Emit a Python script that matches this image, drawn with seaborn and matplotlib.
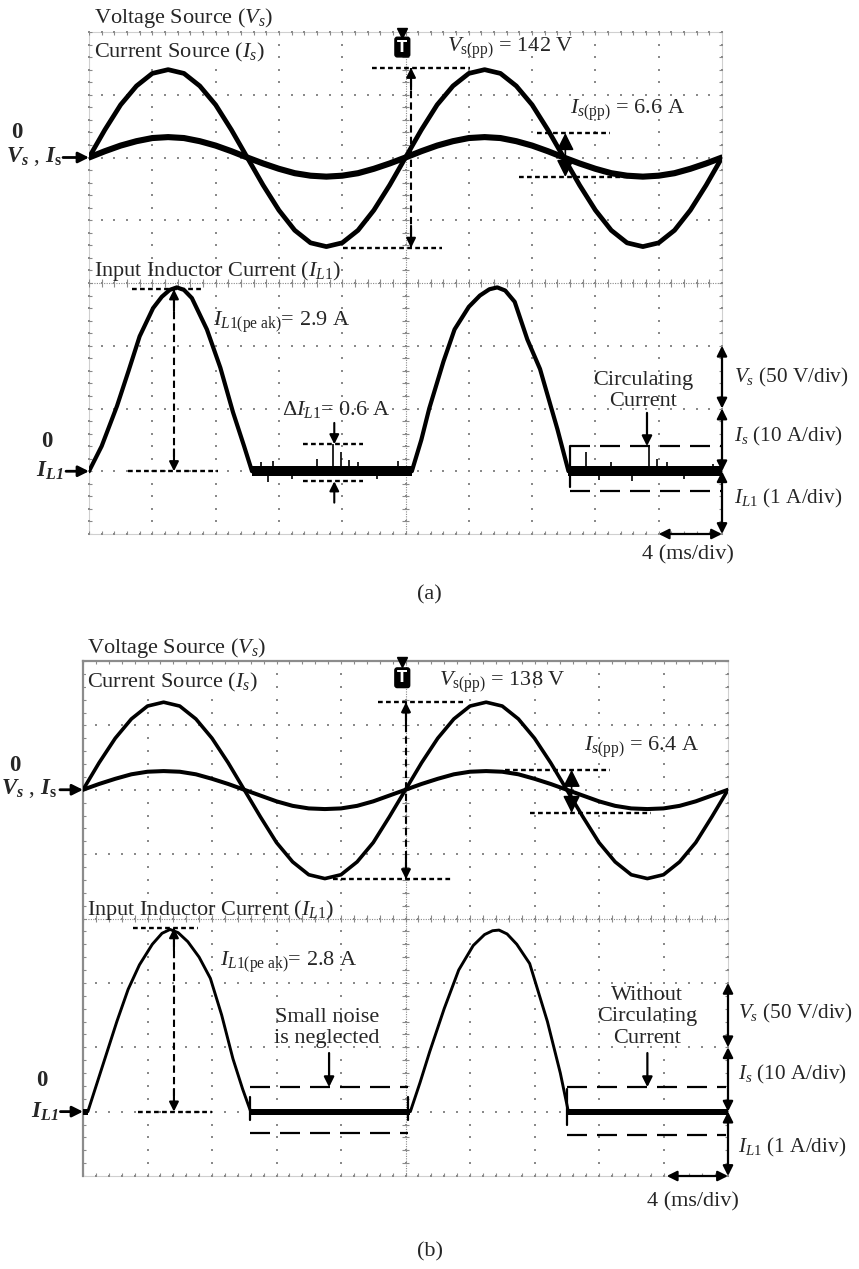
import numpy as np
import pandas as pd
import matplotlib
matplotlib.use("Agg")
import matplotlib.pyplot as plt
import seaborn as sns

# ------------------------------------------------------------------
# Data (4 ms/div, 10 divisions)
# ------------------------------------------------------------------
T_MS = list(range(0, 41))                      # sample instants (ms)

# ---- panel (a) ----
VS_A = [0, 22, 42, 57, 67, 70, 67, 57, 42, 22, 0, -22, -42, -58, -68, -71, -68, -58, -42, -22,
        0, 22, 42, 57, 67, 70, 67, 57, 42, 22, 0, -22, -42, -58, -68, -71, -68, -58, -42, -22, 0]
IS_A = [0, 1.0, 1.9, 2.6, 3.1, 3.25, 3.1, 2.6, 1.9, 1.0, 0, -0.95, -1.8, -2.5, -2.9, -3.05, -2.9, -2.5, -1.8, -0.95,
        0, 1.0, 1.9, 2.6, 3.1, 3.25, 3.1, 2.6, 1.9, 1.0, 0, -0.95, -1.8, -2.5, -2.9, -3.05, -2.9, -2.5, -1.8, -0.95, 0]
IL1_T_A = [0, 0.8, 1.77, 2.5, 3.2, 4.05, 4.6, 5.1, 5.55, 6.0, 6.5, 7.45, 8.3, 9.1, 9.8, 10.3,
           20.4, 21.0, 21.5, 22.4, 23.1, 24.0, 24.7, 25.3, 25.8, 26.3, 26.9, 27.7, 28.5, 29.6, 30.3, 40.0]
IL1_A = [0, 0.4, 1.04, 1.6, 2.15, 2.6, 2.78, 2.89, 2.93, 2.89, 2.76, 2.26, 1.65, 0.94, 0.4, 0,
         0, 0.5, 1.0, 1.75, 2.26, 2.62, 2.8, 2.9, 2.93, 2.88, 2.7, 2.1, 1.63, 0.67, 0, 0]
SPIKE_T_A = [10.9, 11.3, 11.6, 12.8, 14.4, 15.4, 15.9, 16.4, 17.0, 18.2, 19.5,
             31.4, 32.2, 33.0, 34.3, 35.4, 35.9, 36.5, 37.6, 39.4]
SPIKE_A = [0.14, -0.17, 0.16, -0.13, 0.2, 0.43, 0.3, 0.18, 0.15, -0.12, 0.17,
           0.3, -0.14, 0.14, -0.16, 0.41, 0.19, 0.15, -0.12, 0.12]
NOISE_A = 0.08                                  # half-width of noise band (A)

# ---- panel (b) ----
VS_B = [0, 21, 40, 55, 65, 68, 65, 55, 40, 21, 0, -21, -41, -56, -66, -69, -66, -56, -41, -21,
        0, 21, 40, 55, 65, 68, 65, 55, 40, 21, 0, -21, -41, -56, -66, -69, -66, -56, -41, -21, 0]
IS_B = [0, 0.9, 1.7, 2.4, 2.8, 2.9, 2.8, 2.4, 1.7, 0.9, 0, -0.9, -1.8, -2.5, -2.9, -3.0, -2.9, -2.5, -1.8, -0.9,
        0, 0.9, 1.7, 2.4, 2.8, 2.9, 2.8, 2.4, 1.7, 0.9, 0, -0.9, -1.8, -2.5, -2.9, -3.0, -2.9, -2.5, -1.8, -0.9, 0]
IL1_T_B = [0, 0.3, 1.2, 2.1, 2.8, 3.5, 4.3, 4.9, 5.4, 5.9, 6.5, 7.2, 7.9, 8.6, 9.3, 9.9, 10.4,
           20.3, 20.9, 21.5, 22.4, 23.3, 24.2, 24.9, 25.4, 25.8, 26.3, 26.9, 27.7, 28.8, 29.6, 30.1, 40.0]
IL1_B = [0, 0, 0.7, 1.4, 1.9, 2.28, 2.6, 2.77, 2.83, 2.78, 2.64, 2.4, 2.07, 1.5, 0.82, 0.35, 0,
         0, 0.45, 0.93, 1.6, 2.2, 2.58, 2.75, 2.81, 2.82, 2.76, 2.6, 2.3, 1.4, 0.6, 0, 0]
SPIKE_T_B = []
SPIKE_B = []
NOISE_B = 0.045

# scales
VS_DIV, IS_DIV, IL_DIV, MS_DIV = 50.0, 10.0, 1.0, 4.0

# texts
VPP_TXT = [r"$V_{\mathrm{s(pp)}}$ = 142 V", r"$V_{\mathrm{s(pp)}}$ = 138 V"]
IPP_TXT = [r"$I_{s(\mathrm{pp})}$ = 6.6 A", r"$I_{s(\mathrm{pp})}$ = 6.4 A"]
PK_TXT = [r"$I_{L1(\mathrm{pe\ ak})}$= 2.9 A", r"$I_{L1(\mathrm{pe\ ak})}$= 2.8 A"]
DELTA_TXT = r"$\mathit{Δ}I_{L1}$= 0.6 A"

# ------------------------------------------------------------------
sns.set_theme(style="white")
plt.rcParams['font.family'] = ['Liberation Serif', 'DejaVu Serif']
plt.rcParams['mathtext.fontset'] = 'custom'
plt.rcParams['mathtext.rm'] = 'Liberation Serif'
plt.rcParams['mathtext.it'] = 'Liberation Serif:italic'
plt.rcParams['mathtext.bf'] = 'Liberation Serif:bold'
plt.rcParams['mathtext.bfit'] = 'Liberation Serif:italic:bold'

FS = 16
FS_SC = 15.3
GRID_C = '#8a8a8a'

fig = plt.figure(figsize=(8.59, 12.69), dpi=100)
ax_a = fig.add_axes([89 / 859, 1 - 534 / 1269, 633 / 859, 502 / 1269])
ax_b = fig.add_axes([83 / 859, 1 - 1176 / 1269, 645 / 859, 515 / 1269])


def scope_grid(ax, strong_frame):
    ax.set_xlim(0, 40)
    ax.set_ylim(-4, 4)
    ax.set_xticks([])
    ax.set_yticks([])
    for name, sp in ax.spines.items():
        sp.set_zorder(0.5)
        if strong_frame and name in ('left', 'top'):
            sp.set_color('#8c8c8c'); sp.set_linewidth(1.6)
        else:
            sp.set_color('#d0d0d0'); sp.set_linewidth(0.8)
    ys = np.linspace(-4, 4, 41)
    xs = np.linspace(0, 40, 51)
    for xv in np.arange(0, 41, 4):
        ax.plot(np.full(41, xv), ys, ls='none', marker='s', ms=1.5, mew=0, color=GRID_C, zorder=1, clip_on=False)
    for yv in np.arange(-4, 5, 1):
        ax.plot(xs, np.full(51, yv), ls='none', marker='s', ms=1.5, mew=0, color=GRID_C, zorder=1, clip_on=False)
    # centre cross with fine ticks
    ax.plot([0, 40], [0, 0], ls=(0, (1, 1.2)), lw=0.8, color=GRID_C, zorder=1)
    ax.plot([20, 20], [-4, 4], ls=(0, (1, 1.2)), lw=0.8, color=GRID_C, zorder=1)
    ax.vlines(xs, -0.06, 0.06, lw=0.8, color=GRID_C, zorder=1)
    ax.hlines(ys, 19.76, 20.24, lw=0.8, color=GRID_C, zorder=1)
    # border ticks
    ax.hlines(ys, 0, 0.2, lw=0.8, color=GRID_C, zorder=1)
    ax.hlines(ys, 39.8, 40, lw=0.8, color=GRID_C, zorder=1)
    ax.vlines(xs, 3.95, 4, lw=0.8, color=GRID_C, zorder=1)
    ax.vlines(xs, -4, -3.95, lw=0.8, color=GRID_C, zorder=1)


def traces(ax, vs, is_, il_t, il, spk_t, spk, noise, lw_v, lw_i, lw_l):
    dv = pd.DataFrame({'t': T_MS, 'y': 2 + np.array(vs) / VS_DIV})
    di = pd.DataFrame({'t': T_MS, 'y': 2 + np.array(is_) / IS_DIV})
    dl = pd.DataFrame({'t': il_t, 'y': -3 + np.array(il) / IL_DIV})
    for d, lw in ((dv, lw_v), (di, lw_i), (dl, lw_l)):
        sns.lineplot(data=d, x='t', y='y', ax=ax, color='black', linewidth=lw, sort=False,
                     estimator=None, zorder=3, solid_joinstyle='round', solid_capstyle='round')
    # noise band on the zero-current intervals
    for k in range(len(il) - 1):
        if il[k] == 0 and il[k + 1] == 0:
            ax.fill_between([il_t[k], il_t[k + 1]], -3 - noise, -3 + noise, color='black',
                            lw=0, zorder=3)
    if spk_t:
        ax.vlines(spk_t, -3, -3 + np.array(spk) / IL_DIV, color='black', lw=1.2, zorder=3)


def hdash(ax, x0, x1, y, ls=(0, (2.0, 1.4)), lw=1.7):
    ax.plot([x0, x1], [y, y], color='black', lw=lw, ls=ls, clip_on=False, zorder=4,
            dash_capstyle='butt')


def vdash(ax, x, y0, y1, ls=(0, (3.5, 2.0)), lw=1.5):
    ax.plot([x, x], [y0, y1], color='black', lw=lw, ls=ls, clip_on=False, zorder=4)


def head(ax, x0, y0, x1, y1, ms=14, lw=1.5):
    ax.annotate('', xy=(x1, y1), xytext=(x0, y0),
                arrowprops=dict(arrowstyle='-|>', color='black', lw=lw, shrinkA=0, shrinkB=0,
                                mutation_scale=ms),
                annotation_clip=False, zorder=5)


def dbl(ax, x0, y0, x1, y1, ms=15, lw=1.6):
    ax.annotate('', xy=(x1, y1), xytext=(x0, y0),
                arrowprops=dict(arrowstyle='<|-|>', color='black', lw=lw, shrinkA=0, shrinkB=0,
                                mutation_scale=ms),
                annotation_clip=False, zorder=5)


BOX_LS = (0, (9, 4.5))


def panel(ax, P, idx):
    # titles
    ax.text(P['tx'], P['tvs'], r"Voltage Source ($V_s$)", fontsize=FS, ha='left', va='center', clip_on=False)
    ax.text(P['tx'], P['tis'], r"Current Source ($I_s$)", fontsize=FS, ha='left', va='center', zorder=6,
            bbox=dict(fc='white', ec='none', pad=0.5))
    ax.text(P['tx'], P['til'], r"Input Inductor Current ($I_{L1}$)", fontsize=FS, ha='left', va='center')
    # trigger marker
    ax.plot([P['trg']], [3.99], marker='v', ms=7, color='black', clip_on=False, zorder=6)
    ax.text(P['trg'], P['trg_y'], 'T', color='white', fontweight='bold', fontsize=10.5, ha='center',
            va='center', family='DejaVu Sans', zorder=6,
            bbox=dict(boxstyle='round,pad=0.16', fc='black', ec='black'))
    # Vs(pp)
    hdash(ax, *P['vpp_top'])
    hdash(ax, *P['vpp_bot'])
    x = P['vpp_x']
    vdash(ax, x, P['vpp_top'][2], P['vpp_bot'][2])
    head(ax, x, P['vpp_top'][2] - 0.35, x, P['vpp_top'][2])
    head(ax, x, P['vpp_bot'][2] + 0.35, x, P['vpp_bot'][2])
    ax.text(P['vpp_tx'][0], P['vpp_tx'][1], VPP_TXT[idx], fontsize=FS, ha='left', va='center')
    # Is(pp)
    hdash(ax, *P['ipp_top'])
    hdash(ax, *P['ipp_bot'])
    x = P['ipp_x']
    head(ax, x, P['ipp_mid'], x, P['ipp_top'][2], ms=26, lw=1.2)
    head(ax, x, P['ipp_mid'], x, P['ipp_bot'][2], ms=26, lw=1.2)
    ax.text(P['ipp_tx'][0], P['ipp_tx'][1], IPP_TXT[idx], fontsize=FS, ha='left', va='center')
    # IL1 peak
    hdash(ax, *P['pk_top'])
    hdash(ax, *P['pk_bot'])
    x = P['pk_x']
    vdash(ax, x, P['pk_top'][2], P['pk_bot'][2])
    head(ax, x, P['pk_top'][2] - 0.35, x, P['pk_top'][2])
    head(ax, x, P['pk_bot'][2] + 0.35, x, P['pk_bot'][2])
    ax.text(P['pk_tx'][0], P['pk_tx'][1], PK_TXT[idx], fontsize=FS, ha='left', va='center')
    # delta annotation (panel a only)
    if 'dl' in P:
        D = P['dl']
        ax.text(D['tx'], D['ty'], DELTA_TXT, fontsize=FS, ha='left', va='center')
        hdash(ax, D['x0'], D['x1'], D['top'])
        hdash(ax, D['x0'], D['x1'], D['bot'])
        head(ax, D['x'], D['top'] + 0.34, D['x'], D['top'])
        head(ax, D['x'], D['bot'] - 0.34, D['x'], D['bot'])
    # boxes
    for (x0, x1, yt, yb, v0, v1, both) in P['boxes']:
        hdash(ax, x0, x1, yt, ls=BOX_LS, lw=1.6)
        hdash(ax, x0, x1, yb, ls=BOX_LS, lw=1.6)
        ax.plot([x0, x0], [v0, v1], color='black', lw=1.6, zorder=4)
        if both:
            ax.plot([x1, x1], [v0, v1], color='black', lw=1.6, zorder=4)
    # callout texts
    for (tx, ty, txt, ax0, ay0, ay1) in P['callouts']:
        ax.text(tx, ty, txt, fontsize=FS, ha='center', va='center', linespacing=1.15, zorder=6)
        head(ax, ax0, ay0, ax0, ay1, ms=15, lw=1.6)
    # right scale arrows
    dbl(ax, 40, -1, 40, -2)
    dbl(ax, 40, -2, 40, -3)
    dbl(ax, 40, -3, 40, -4)
    dbl(ax, P['ms_x0'], -4, 40, -4)
    lx = P['sc_x']
    ax.text(lx, P['sc_y'][0], r"$V_s$ (50 V/div)", fontsize=FS_SC, ha='left', va='center', clip_on=False)
    ax.text(lx, P['sc_y'][1], r"$I_s$ (10 A/div)", fontsize=FS_SC, ha='left', va='center', clip_on=False)
    ax.text(lx, P['sc_y'][2], r"$I_{L1}$ (1 A/div)", fontsize=FS_SC, ha='left', va='center', clip_on=False)
    ax.text(P['ms_tx'][0], P['ms_tx'][1], "4 (ms/div)", fontsize=FS, ha='center', va='center', clip_on=False)
    # left reference markers
    ax.text(P['z1'][0], P['z1'][1], "0", fontsize=FS + 0.5, fontweight='bold', ha='center', va='center')
    ax.text(P['vsis_x'], 2.02, r"$\mathbfit{V}_{\mathbfit{s}}$ , $\mathbfit{I}_{\mathbf{s}}$",
            fontsize=FS + 0.5, ha='right', va='center')
    head(ax, P['arr1'], 2.0, 0, 2.0, ms=16, lw=2.0)
    ax.text(P['z2'][0], P['z2'][1], "0", fontsize=FS + 0.5, fontweight='bold', ha='center', va='center')
    ax.text(P['il_x'], -3.0, r"$\mathbfit{I}_{\mathbfit{L1}}$", fontsize=FS + 0.5, ha='right', va='center')
    head(ax, P['arr2'], -3.0, 0, -3.0, ms=16, lw=2.0)


PA = dict(tx=0.32, tvs=4.22, tis=3.67, til=0.19, trg=19.8, trg_y=3.76,
          vpp_top=(17.9, 24.1, 3.43), vpp_bot=(16.05, 22.3, 0.56), vpp_x=20.35, vpp_tx=(22.6, 3.745),
          ipp_top=(28.3, 32.9, 2.39), ipp_bot=(27.2, 35.0, 1.69), ipp_x=30.1, ipp_mid=2.03,
          ipp_tx=(30.4, 2.76),
          pk_top=(2.72, 7.2, -0.10), pk_bot=(2.46, 8.15, -3.0), pk_x=5.37, pk_tx=(7.84, -0.62),
          dl=dict(tx=12.2, ty=-2.02, x0=13.5, x1=17.3, top=-2.57, bot=-3.16, x=15.5),
          boxes=[(30.4, 40.0, -2.59, -3.32, -2.59, -3.25, False)],
          callouts=[(35.0, -1.72, "Circulating\nCurrent", 35.26, -2.07, -2.6)],
          sc_x=40.75, sc_y=(-1.5, -2.45, -3.43), ms_x0=36.0, ms_tx=(37.85, -4.33),
          z1=(-4.55, 2.4), vsis_x=-1.7, arr1=-1.64, z2=(-2.65, -2.53), il_x=-1.6, arr2=-1.45)

PB = dict(tx=0.25, tvs=4.2, tis=3.67, til=0.13, trg=19.8, trg_y=3.74,
          vpp_top=(18.3, 23.6, 3.36), vpp_bot=(15.5, 22.9, 0.61), vpp_x=20.03, vpp_tx=(22.1, 3.67),
          ipp_top=(26.2, 32.7, 2.31), ipp_bot=(27.7, 35.2, 1.64), ipp_x=30.3, ipp_mid=1.98,
          ipp_tx=(31.1, 2.66),
          pk_top=(3.1, 7.13, -0.15), pk_bot=(3.41, 8.0, -3.0), pk_x=5.64, pk_tx=(8.5, -0.68),
          boxes=[(10.36, 20.15, -2.62, -3.33, -2.77, -3.13, True),
                 (30.0, 39.9, -2.62, -3.36, -2.65, -3.2, False)],
          callouts=[(15.13, -1.70, "Small noise\nis neglected", 15.26, -2.09, -2.62),
                    (35.0, -1.53, "Without\nCirculating\nCurrent", 35.0, -2.09, -2.62)],
          sc_x=40.6, sc_y=(-1.47, -2.43, -3.55), ms_x0=36.2, ms_tx=(37.8, -4.4),
          z1=(-4.22, 2.38), vsis_x=-1.61, arr1=-1.43, z2=(-2.54, -2.51), il_x=-1.55, arr2=-1.4)

for ax, strong in ((ax_a, False), (ax_b, True)):
    scope_grid(ax, strong)

traces(ax_a, VS_A, IS_A, IL1_T_A, IL1_A, SPIKE_T_A, SPIKE_A, NOISE_A, 3.4, 4.4, 3.0)
traces(ax_b, VS_B, IS_B, IL1_T_B, IL1_B, SPIKE_T_B, SPIKE_B, NOISE_B, 2.6, 2.9, 2.1)
for ax in (ax_a, ax_b):
    ax.set_xlim(0, 40)
    ax.set_ylim(-4, 4)
    ax.set_xlabel('')
    ax.set_ylabel('')

panel(ax_a, PA, 0)
panel(ax_b, PB, 1)

fig.text(0.5, 1 - 595 / 1269, "(a)", fontsize=FS, ha='center', va='center')
fig.text(0.5, 1 - 1252 / 1269, "(b)", fontsize=FS, ha='center', va='center')

fig.savefig("out.png", dpi=100, facecolor='white')
